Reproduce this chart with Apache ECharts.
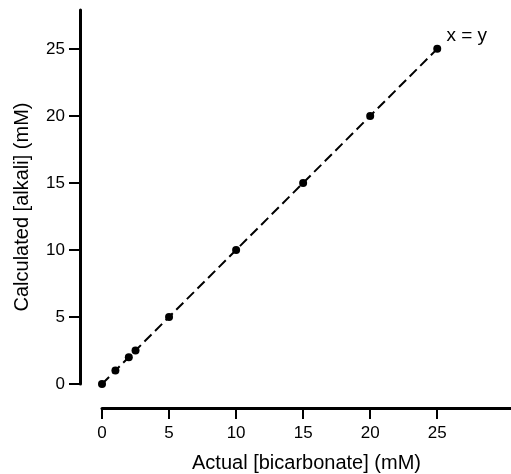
<!DOCTYPE html>
<html>
<head>
<meta charset="utf-8">
<script src="https://cdn.jsdelivr.net/npm/echarts@6/dist/echarts.min.js"></script>
<style>html,body{margin:0;padding:0;background:#fff}#c{width:511px;height:474px}</style>
</head>
<body>
<div id="c"></div>
<script>
const actualBicarbonate = [0, 1, 2, 2.5, 5, 10, 15, 20, 25];
const calculatedAlkali = [0, 1, 2, 2.5, 5, 10, 15, 20, 25];
const tickValues = [0, 5, 10, 15, 20, 25];
const lineLabel = 'x = y';
const labelCoord = [27.2, 26.0];
const xRange = [0, 30.5];
const yRange = [0, 27.9];

const chart = echarts.init(document.getElementById('c'));
const font = '"Liberation Sans", Arial, Helvetica, sans-serif';
const hidden = (gi, range) => ({ type: 'value', gridIndex: gi, min: range[0], max: range[1], show: false });
const axisLineStyle = { show: true, onZero: false, lineStyle: { color: '#000', width: 3 } };
const tickStyle = { show: true, length: 11, customValues: tickValues, lineStyle: { color: '#000', width: 2 } };
chart.setOption({
  animation: false,
  backgroundColor: '#fff',
  grid: [
    { left: 102, right: 0, top: 10, bottom: 90, containLabel: false, outerBoundsMode: 'none' },
    { left: 102, right: 0, top: 398, bottom: 66, containLabel: false, outerBoundsMode: 'none' },
    { left: 80, width: 10, top: 10, bottom: 90, containLabel: false, outerBoundsMode: 'none' }
  ],
  xAxis: [
    hidden(0, xRange),
    {
      type: 'value', gridIndex: 1, min: xRange[0], max: xRange[1], position: 'bottom',
      name: 'Actual [bicarbonate] (mM)', nameLocation: 'middle', nameGap: 45,
      nameTextStyle: { fontFamily: font, fontSize: 20, color: '#000' },
      axisLine: axisLineStyle, axisTick: tickStyle,
      axisLabel: { customValues: tickValues, margin: 17, fontFamily: font, fontSize: 17, color: '#000' },
      splitLine: { show: false }
    },
    hidden(2, [0, 1])
  ],
  yAxis: [
    hidden(0, yRange),
    hidden(1, [0, 1]),
    {
      type: 'value', gridIndex: 2, min: yRange[0], max: yRange[1], position: 'left',
      name: 'Calculated [alkali] (mM)', nameLocation: 'middle', nameGap: 48, nameRotate: 90,
      nameTextStyle: { fontFamily: font, fontSize: 20, color: '#000', padding: [0, 20, 0, 0] },
      axisLine: axisLineStyle, axisTick: tickStyle,
      axisLabel: { customValues: tickValues, margin: 15, fontFamily: font, fontSize: 17, color: '#000' },
      splitLine: { show: false }
    }
  ],
  series: [{
    type: 'line', xAxisIndex: 0, yAxisIndex: 0,
    data: actualBicarbonate.map((x, i) => [x, calculatedAlkali[i]]),
    symbol: 'circle', symbolSize: 8,
    itemStyle: { color: '#000' },
    lineStyle: { color: '#000', width: 2, type: [10, 5] },
    markPoint: {
      symbol: 'circle', symbolSize: 0,
      label: { show: true, formatter: lineLabel, fontFamily: font, fontSize: 19, color: '#000' },
      data: [{ coord: labelCoord }]
    }
  }]
});
</script>
</body>
</html>
